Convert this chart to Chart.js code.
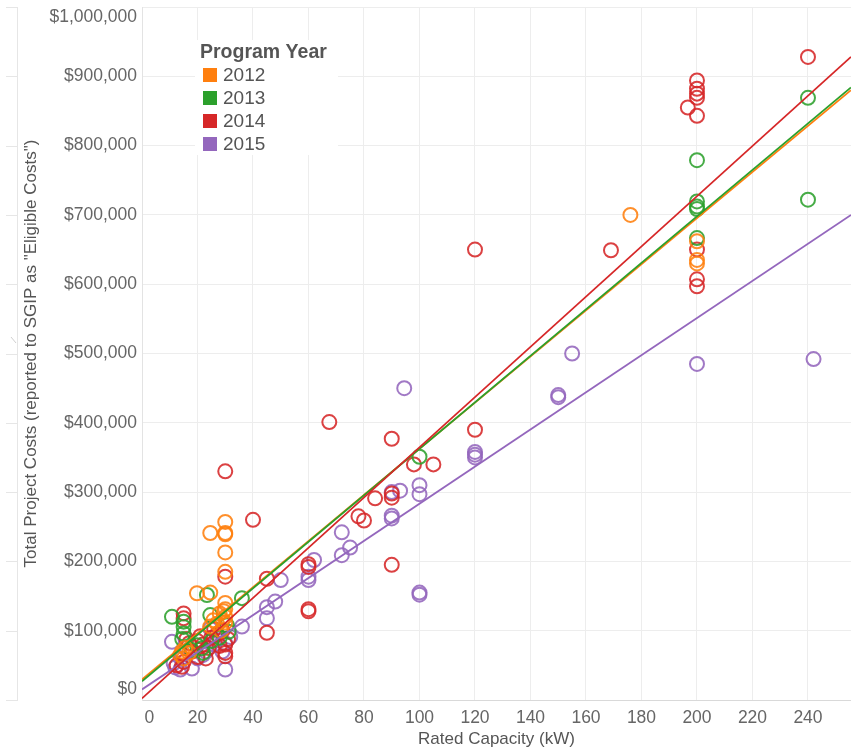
<!DOCTYPE html>
<html><head><meta charset="utf-8">
<script src="https://cdn.jsdelivr.net/npm/chart.js@4/dist/chart.umd.min.js"></script>
<style>html,body{margin:0;padding:0;background:#fff;}canvas{display:block;}</style>
</head><body>
<canvas id="c" width="851" height="748"></canvas>
<script>
// ---------- data ----------
const years = ['2012', '2013', '2014', '2015'];
const colors = ['#ff7f0e', '#2ca02c', '#d62728', '#9467bd'];

const kw2012 = [176, 200, 200, 200, 30, 30, 24.6, 30, 30, 30, 19.8, 24.6, 30, 28, 29, 30, 30, 27, 25.7, 24.6, 14.4, 15.6, 13.8, 15, 17, 28.5, 29.5, 30];
const cost2012 = [700000, 662000, 635000, 630000, 257000, 241000, 241000, 239000, 213000, 185000, 154000, 155000, 140000, 125000, 115000, 120000, 131000, 110000, 115000, 106000, 70000, 75000, 65000, 60000, 68000, 100000, 128000, 112000];

const kw2013 = [240, 240, 200, 200, 200, 200, 200, 100, 36, 23.4, 10.8, 15, 15, 15, 19.8, 21.6, 24.6, 30.6, 31.2, 18, 25, 28, 22, 14.5];
const cost2013 = [869000, 722000, 779000, 719500, 712000, 708500, 666500, 351000, 147000, 151500, 120000, 113000, 105500, 96000, 79000, 74500, 122500, 108000, 98500, 72000, 85000, 90000, 68000, 88000];

const kw2014 = [240, 200, 200, 200, 200, 200, 196.7, 200, 200, 200, 169, 120, 120, 90, 67.5, 98, 105, 90, 90, 84, 78, 80, 90, 60, 60, 60, 60, 45, 45, 40, 30, 30, 15, 15, 30, 30, 14.4, 15, 12.5, 20, 22, 25, 27, 18, 30, 29, 16, 24, 26, 20, 17, 21, 28, 31, 23];
const cost2014 = [928000, 894000, 882000, 875000, 869000, 843000, 855000, 650000, 607000, 597000, 649000, 650000, 390000, 377000, 401000, 340000, 340000, 292000, 298000, 291000, 265000, 259000, 195000, 196000, 192000, 131000, 128000, 175000, 97000, 260000, 330000, 178000, 125000, 118000, 68000, 63000, 48000, 55000, 50000, 85000, 80000, 90000, 95000, 70000, 80000, 100000, 88000, 75000, 102000, 62000, 82000, 92000, 78000, 88000, 60000];

const kw2015 = [242, 200, 155, 150, 150, 120, 120, 120, 94.5, 100, 100, 90, 93, 90, 90, 72, 75, 72, 100, 100, 62, 60, 60, 50, 48, 45, 45, 36, 12, 18, 30, 10.8, 11.4, 13.8, 27, 24.6, 31.8, 20, 22, 16, 14, 26, 29, 23, 30];
const cost2015 = [492000, 485000, 500000, 440000, 437000, 358000, 354000, 350000, 450000, 310000, 297000, 300000, 302000, 266000, 262000, 242000, 220000, 209000, 155000, 152000, 202000, 178000, 173000, 173000, 142000, 134000, 118000, 106000, 47000, 45500, 44000, 84000, 53000, 44000, 86500, 103000, 91000, 60000, 65000, 75000, 60000, 80000, 70000, 70000, 82000];

// trend line end points at kW = trendKw
const trendKw = [0, 255.5];
const trend2012 = [29750, 880000];
const trend2013 = [27000, 884000];
const trend2014 = [2300, 928000];
const trend2015 = [15300, 700000];

const xTickValues = [0, 20, 40, 60, 80, 100, 120, 140, 160, 180, 200, 220, 240];
const yTickValues = [0, 100000, 200000, 300000, 400000, 500000, 600000, 700000, 800000, 900000, 1000000];

const xTitle = 'Rated Capacity (kW)';
const yTitle = 'Total Project Costs (reported to SGIP as "Eligible Costs")';
const legendTitle = 'Program Year';

// ---------- build ----------
const kwSets = [kw2012, kw2013, kw2014, kw2015];
const costSets = [cost2012, cost2013, cost2014, cost2015];
const trendSets = [trend2012, trend2013, trend2014, trend2015];

function zip(xs, ys) { return xs.map((x, i) => ({ x: x, y: ys[i] })); }
function alpha(hex, a) {
  const n = parseInt(hex.slice(1), 16);
  return 'rgba(' + (n >> 16 & 255) + ',' + (n >> 8 & 255) + ',' + (n & 255) + ',' + a + ')';
}

const datasets = [];
years.forEach((yr, i) => {
  datasets.push({
    label: yr,
    data: zip(kwSets[i], costSets[i]),
    borderColor: alpha(colors[i], 0.88),
    backgroundColor: 'rgba(0,0,0,0)',
    pointRadius: 7,
    pointBorderWidth: 2,
    pointHoverRadius: 7,
    order: 10 + i
  });
});
years.forEach((yr, i) => {
  datasets.push({
    label: 'trend ' + yr,
    data: zip(trendKw, trendSets[i]),
    showLine: true,
    borderColor: colors[i],
    borderWidth: 1.8,
    pointRadius: 0,
    pointHoverRadius: 0,
    fill: false,
    order: i === 2 ? 0 : (i === 1 ? 1 : (i === 0 ? 2 : 3))
  });
});

const FONT = '"Liberation Sans", Arial, sans-serif';

const leftPanel = {
  id: 'leftPanel',
  beforeDraw(chart) {
    const ctx = chart.ctx, y = chart.scales.y, a = chart.chartArea;
    ctx.save();
    ctx.strokeStyle = '#e6e6e6';
    ctx.lineWidth = 1;
    ctx.beginPath();
    ctx.moveTo(17.5, a.top);
    ctx.lineTo(17.5, a.bottom + 1);
    yTickValues.forEach(v => {
      const p = Math.round(y.getPixelForValue(v)) + 0.5;
      ctx.moveTo(6, p);
      ctx.lineTo(17.5, p);
    });
    ctx.stroke();
    ctx.strokeStyle = '#cfcfcf';
    ctx.beginPath();
    ctx.moveTo(11, 337);
    ctx.lineTo(16, 343);
    ctx.stroke();
    ctx.restore();
  }
};

const floatLegend = {
  id: 'floatLegend',
  afterDraw(chart) {
    const ctx = chart.ctx;
    ctx.save();
    ctx.fillStyle = '#ffffff';
    ctx.fillRect(195, 40, 143, 115);
    ctx.textBaseline = 'middle';
    ctx.textAlign = 'left';
    ctx.fillStyle = '#555555';
    ctx.font = 'bold 19.5px ' + FONT;
    ctx.fillText(legendTitle, 200, 53);
    ctx.font = '19px ' + FONT;
    years.forEach((yr, i) => {
      const cy = 75 + i * 23;
      ctx.fillStyle = colors[i];
      ctx.fillRect(203, cy - 7, 14, 14);
      ctx.fillStyle = '#555555';
      ctx.fillText(yr, 223, cy + 1);
    });
    ctx.restore();
  }
};

new Chart(document.getElementById('c'), {
  type: 'scatter',
  data: { datasets: datasets },
  options: {
    responsive: false,
    animation: false,
    devicePixelRatio: 1,
    events: [],
    layout: { autoPadding: false, padding: { top: 7, right: 0, bottom: 0, left: 0 } },
    plugins: { legend: { display: false }, tooltip: { enabled: false } },
    scales: {
      x: {
        type: 'linear',
        min: 0,
        max: 255.5,
        afterBuildTicks(s) { s.ticks = xTickValues.map(v => ({ value: v })); },
        afterFit(s) { s.height = 48; s.paddingLeft = 0; s.paddingRight = 0; },
        grid: { color: '#ededed', lineWidth: 1, drawTicks: false },
        border: { color: '#d9d9d9', width: 1 },
        ticks: {
          padding: 8,
          color: '#666666',
          font: { family: FONT, size: 17.5 },
          maxRotation: 0,
          autoSkip: false,
          callback: v => v === 0 ? '   0' : String(v)
        },
        title: {
          display: true,
          text: xTitle,
          color: '#555555',
          font: { family: FONT, size: 17 },
          padding: { top: 0, bottom: -2 }
        }
      },
      y: {
        type: 'linear',
        min: 0,
        max: 1000000,
        afterBuildTicks(s) { s.ticks = yTickValues.map(v => ({ value: v })); },
        afterFit(s) { s.width = 142; s.paddingTop = 0; s.paddingBottom = 0; },
        grid: { color: '#ededed', lineWidth: 1, drawTicks: false },
        border: { color: '#e3e3e3', width: 1 },
        ticks: {
          padding: 5,
          color: '#666666',
          font: { family: FONT, size: 17.5 },
          autoSkip: false,
          callback: v => {
            const s = '$' + Number(v).toLocaleString('en-US');
            if (v === 0) return [s, ''];
            if (v === 1000000) return ['', s];
            return s;
          }
        },
        title: {
          display: true,
          text: yTitle,
          color: '#555555',
          font: { family: FONT, size: 17 },
          padding: { top: 21.5, bottom: 0 }
        }
      }
    }
  },
  plugins: [leftPanel, floatLegend]
});
</script>
</body></html>
